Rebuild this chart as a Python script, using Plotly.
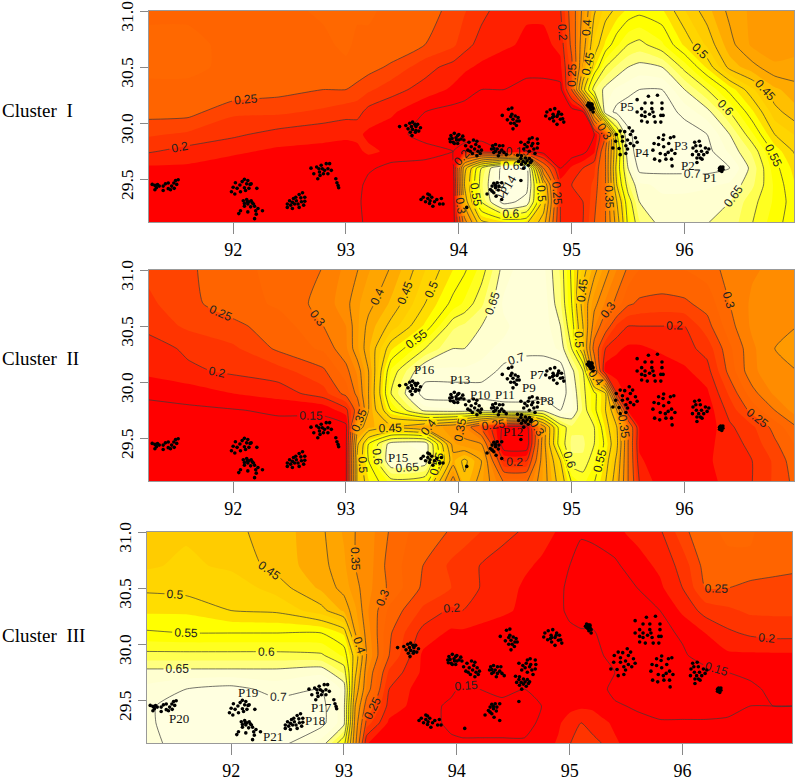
import plotly.graph_objects as go

LON = [91.2,91.6,92.0,92.4,92.8,93.0,93.1,93.2,93.4,93.7,93.95,94.05,94.2,94.4,94.6,94.75,94.9,95.0,95.1,95.2,95.3,95.4,95.5,95.6,95.8,96.0,96.2,96.4,96.6,96.8,97.0]
LAT = [31.05,30.7,30.5,30.3,30.1,29.9,29.75,29.6,29.45,29.3,29.1]

Z1 = [
[.27,.27,.27,.27,.28,.28,.28,.28,.27,.27,.24,.23,.21,.19,.18,.18,.2,.27,.36,.44,.48,.5,.52,.53,.52,.47,.43,.39,.37,.36,.37],
[.28,.28,.27,.27,.27,.28,.27,.27,.27,.25,.23,.21,.19,.18,.17,.17,.18,.26,.38,.48,.53,.57,.6,.61,.58,.52,.47,.41,.37,.36,.37],
[.28,.28,.27,.27,.27,.27,.27,.26,.245,.21,.19,.18,.17,.16,.16,.16,.17,.24,.4,.52,.6,.63,.65,.66,.65,.59,.52,.44,.41,.38,.38],
[.27,.27,.27,.26,.25,.25,.24,.23,.21,.19,.17,.16,.15,.15,.14,.14,.14,.25,.48,.62,.66,.68,.69,.7,.7,.65,.6,.54,.48,.43,.41],
[.26,.26,.23,.23,.22,.21,.21,.19,.18,.15,.14,.14,.13,.13,.13,.13,.13,.13,.14,.4,.68,.71,.72,.72,.72,.69,.66,.6,.53,.46,.43],
[.23,.22,.205,.19,.18,.18,.18,.17,.16,.14,.13,.13,.13,.13,.13,.13,.13,.13,.14,.15,.25,.55,.69,.72,.7,.72,.7,.65,.58,.5,.47],
[.205,.19,.18,.17,.17,.165,.17,.18,.17,.16,.15,.17,.18,.15,.15,.13,.13,.13,.14,.17,.3,.5,.68,.72,.73,.72,.71,.67,.62,.54,.49],
[.17,.17,.16,.16,.16,.16,.16,.155,.14,.14,.14,.43,.6,.72,.72,.3,.15,.18,.2,.22,.3,.52,.65,.71,.71,.71,.71,.7,.64,.56,.51],
[.16,.16,.16,.16,.16,.16,.16,.14,.13,.13,.13,.45,.62,.72,.72,.45,.19,.2,.21,.23,.3,.5,.62,.67,.68,.68,.68,.67,.63,.57,.52],
[.16,.16,.16,.16,.16,.16,.155,.14,.13,.13,.13,.42,.6,.72,.68,.48,.2,.19,.2,.24,.3,.45,.58,.65,.67,.67,.66,.65,.61,.57,.53],
[.16,.16,.16,.16,.16,.165,.16,.14,.13,.13,.13,.32,.48,.5,.5,.42,.2,.18,.2,.25,.3,.42,.56,.62,.66,.66,.65,.64,.6,.56,.53],
]
Z2 = [
[.23,.245,.27,.28,.3,.33,.345,.37,.4,.47,.52,.54,.58,.66,.69,.68,.62,.54,.47,.42,.37,.33,.3,.28,.28,.28,.29,.31,.32,.33,.33],
[.215,.245,.26,.28,.31,.34,.37,.39,.43,.5,.56,.58,.62,.68,.7,.69,.63,.55,.43,.36,.32,.29,.255,.245,.24,.245,.26,.3,.33,.34,.35],
[.205,.23,.245,.26,.3,.325,.37,.41,.46,.53,.62,.63,.65,.67,.69,.69,.65,.57,.45,.33,.27,.22,.2,.2,.2,.2,.24,.29,.33,.35,.35],
[.185,.205,.22,.255,.28,.32,.37,.42,.52,.6,.65,.65,.67,.68,.69,.69,.67,.6,.46,.28,.2,.18,.17,.17,.18,.19,.21,.27,.32,.35,.36],
[.18,.195,.205,.215,.245,.29,.33,.4,.58,.68,.68,.68,.68,.71,.72,.72,.72,.66,.6,.35,.16,.16,.16,.16,.16,.17,.19,.26,.32,.34,.35],
[.155,.16,.175,.185,.215,.26,.31,.4,.6,.72,.72,.72,.72,.72,.72,.72,.72,.68,.61,.56,.5,.2,.16,.16,.155,.155,.17,.23,.29,.33,.35],
[.14,.145,.148,.155,.155,.19,.27,.4,.55,.66,.67,.67,.66,.68,.68,.66,.7,.68,.62,.56,.5,.4,.17,.16,.155,.155,.16,.21,.26,.3,.34],
[.13,.13,.13,.14,.14,.14,.38,.42,.44,.4,.36,.33,.25,.14,.13,.38,.58,.62,.62,.6,.52,.45,.3,.17,.155,.155,.16,.195,.22,.26,.3],
[.13,.13,.13,.13,.13,.14,.44,.55,.67,.68,.38,.36,.35,.12,.12,.38,.58,.63,.63,.6,.54,.46,.3,.17,.155,.155,.17,.185,.21,.245,.28],
[.13,.13,.13,.13,.13,.14,.46,.55,.68,.67,.42,.46,.4,.2,.2,.38,.5,.62,.62,.58,.52,.44,.3,.18,.155,.155,.17,.19,.2,.23,.27],
[.13,.13,.13,.13,.13,.14,.46,.52,.58,.57,.32,.44,.38,.3,.3,.38,.47,.55,.58,.55,.5,.42,.3,.2,.16,.16,.17,.18,.2,.23,.26],
]
Z3 = [
[.47,.47,.455,.44,.405,.37,.35,.34,.3,.26,.25,.245,.23,.21,.2,.19,.175,.17,.16,.165,.165,.17,.18,.185,.2,.245,.27,.28,.28,.26,.26],
[.47,.48,.47,.44,.41,.38,.35,.34,.29,.25,.22,.21,.2,.19,.18,.17,.16,.15,.13,.13,.14,.145,.155,.165,.18,.21,.26,.27,.27,.26,.26],
[.495,.49,.49,.465,.42,.39,.36,.335,.295,.245,.225,.215,.2,.19,.17,.165,.16,.14,.13,.13,.13,.13,.14,.15,.17,.2,.25,.25,.24,.24,.23],
[.52,.52,.5,.495,.46,.42,.38,.33,.27,.22,.195,.2,.19,.18,.17,.16,.16,.14,.13,.13,.13,.13,.13,.14,.15,.18,.21,.22,.23,.23,.23],
[.555,.55,.55,.55,.55,.52,.4,.34,.255,.19,.17,.17,.165,.16,.16,.16,.16,.16,.155,.155,.14,.14,.13,.13,.14,.155,.175,.195,.205,.21,.21],
[.61,.61,.61,.61,.605,.57,.48,.35,.25,.17,.16,.165,.16,.16,.16,.16,.16,.16,.16,.16,.15,.14,.13,.13,.13,.145,.165,.17,.17,.17,.17],
[.66,.66,.66,.66,.67,.62,.46,.33,.22,.17,.16,.16,.16,.16,.16,.16,.16,.16,.16,.155,.155,.15,.13,.13,.13,.13,.14,.15,.155,.16,.16],
[.68,.7,.71,.69,.7,.67,.43,.32,.2,.16,.155,.145,.15,.16,.15,.155,.16,.16,.16,.16,.155,.14,.135,.13,.13,.13,.13,.13,.145,.155,.155],
[.69,.72,.72,.71,.71,.66,.4,.28,.19,.16,.145,.14,.14,.14,.14,.15,.16,.165,.17,.17,.16,.155,.15,.145,.13,.13,.13,.14,.15,.15,.15],
[.69,.72,.72,.72,.71,.66,.38,.24,.17,.16,.145,.14,.14,.14,.14,.155,.17,.19,.2,.19,.18,.17,.165,.16,.155,.155,.155,.155,.155,.16,.16],
[.69,.71,.71,.71,.66,.56,.36,.17,.16,.16,.155,.155,.155,.155,.155,.16,.18,.2,.21,.21,.2,.18,.17,.165,.16,.16,.16,.16,.16,.16,.16],
]

P20 = [(91.283,29.455),(91.307,29.446),(91.32,29.426),(91.345,29.44),(91.307,29.408),(91.38,29.4),(91.38,29.44),(91.4,29.46),(91.425,29.467),(91.425,29.417),(91.445,29.408),(91.455,29.44),(91.475,29.467),(91.49,29.49),(91.513,29.497),(91.5,29.455),(91.478,29.42),(91.33,29.453)]
P19 = [(91.985,29.39),(92.0,29.43),(92.02,29.47),(92.035,29.42),(92.06,29.45),(92.065,29.39),(92.08,29.48),(92.1,29.5),(92.12,29.46),(92.13,29.49),(92.15,29.455),(92.1,29.425),(92.14,29.42),(92.16,29.46),(92.21,29.42),(92.015,29.37),(92.11,29.4)]
P21 = [(92.09,29.31),(92.12,29.32),(92.14,29.3),(92.16,29.31),(92.18,29.28),(92.13,29.28),(92.1,29.285),(92.155,29.255),(92.19,29.26),(92.2,29.22),(92.26,29.22),(92.065,29.22),(92.05,29.195),(92.13,29.21),(92.205,29.19),(92.19,29.15),(92.1,29.26),(92.125,29.3),(92.17,29.29),(92.22,29.24)]
P18 = [(92.48,29.28),(92.48,29.25),(92.5,29.31),(92.51,29.27),(92.525,29.24),(92.535,29.33),(92.545,29.28),(92.56,29.31),(92.585,29.365),(92.6,29.335),(92.605,29.3),(92.615,29.38),(92.635,29.34),(92.635,29.305),(92.625,29.27),(92.585,29.25),(92.525,29.295),(92.575,29.28),(92.555,29.34)]
P17 = [(92.69,29.6),(92.715,29.55),(92.74,29.61),(92.75,29.505),(92.765,29.565),(92.78,29.625),(92.79,29.595),(92.8,29.55),(92.76,29.595),(92.825,29.64),(92.84,29.595),(92.855,29.64),(92.87,29.58),(92.84,29.55),(92.81,29.58),(92.77,29.535),(92.91,29.505),(92.92,29.47),(92.93,29.445),(92.935,29.425)]
P16 = [(93.475,29.97),(93.53,29.98),(93.55,29.95),(93.565,30.0),(93.58,29.97),(93.59,30.01),(93.61,29.99),(93.62,29.97),(93.635,29.99),(93.66,29.96),(93.645,29.93),(93.615,29.92),(93.585,29.89),(93.57,29.92),(93.59,29.945),(93.62,29.935)]
P00 = [(93.665,29.32),(93.685,29.34),(93.705,29.3),(93.725,29.37),(93.725,29.33),(93.74,29.285),(93.745,29.31),(93.76,29.34),(93.77,29.26),(93.785,29.3),(93.805,29.32),(93.845,29.33),(93.86,29.28),(93.83,29.28),(93.74,29.36)]
P13 = [(93.92,29.86),(93.93,29.89),(93.95,29.83),(93.96,29.91),(93.975,29.87),(93.99,29.82),(94.0,29.9),(94.02,29.86),(94.035,29.885),(94.045,29.85),(93.94,29.865),(93.98,29.85),(93.99,29.89),(93.96,29.82),(93.925,29.835),(94.0,29.85)]
P10 = [(94.06,29.8),(94.08,29.76),(94.09,29.83),(94.11,29.79),(94.12,29.73),(94.13,29.85),(94.14,29.77),(94.15,29.81),(94.16,29.71),(94.17,29.75),(94.18,29.79),(94.19,29.73),(94.2,29.76),(94.16,29.84),(94.1,29.75)]
P11 = [(94.29,29.77),(94.3,29.8),(94.31,29.74),(94.325,29.81),(94.34,29.77),(94.35,29.71),(94.36,29.8),(94.38,29.76),(94.39,29.8),(94.4,29.74),(94.42,29.72),(94.325,29.75),(94.36,29.74),(94.31,29.775)]
P08 = [(94.55,29.83),(94.585,29.81),(94.575,29.77),(94.605,29.79),(94.625,29.86),(94.625,29.75),(94.65,29.87),(94.655,29.82),(94.665,29.77),(94.675,29.73),(94.695,29.86),(94.7,29.82),(94.695,29.78),(94.645,29.8),(94.615,29.83)]
P09 = [(94.385,30.07),(94.44,30.125),(94.47,30.135),(94.43,30.03),(94.46,30.06),(94.48,30.035),(94.5,30.065),(94.525,30.05),(94.535,30.02),(94.49,30.0),(94.46,30.0),(94.51,29.98),(94.48,29.95),(94.515,30.02),(94.47,30.08)]
P07 = [(94.77,30.065),(94.78,30.1),(94.81,30.12),(94.85,30.13),(94.885,30.1),(94.91,30.08),(94.92,30.04),(94.93,30.01),(94.87,29.99),(94.84,30.02),(94.83,30.05),(94.805,30.04),(94.87,30.06),(94.9,30.035),(94.835,30.08),(94.88,30.08),(94.84,30.06)]
P12 = [(94.52,29.715),(94.53,29.66),(94.55,29.685),(94.555,29.635),(94.57,29.66),(94.575,29.6),(94.59,29.69),(94.59,29.645),(94.605,29.665),(94.615,29.625),(94.625,29.685),(94.635,29.65),(94.555,29.71),(94.645,29.665)]
P14 = [(94.25,29.37),(94.28,29.41),(94.295,29.44),(94.31,29.465),(94.325,29.425),(94.295,29.395),(94.34,29.47),(94.355,29.44),(94.35,29.405),(94.31,29.38),(94.38,29.47),(94.33,29.35),(94.38,29.32),(94.55,29.49),(94.325,29.445),(94.07,29.25)]
P06 = [(95.14,30.16),(95.15,30.18),(95.16,30.14),(95.17,30.17),(95.18,30.15),(95.19,30.13),(95.16,30.17),(95.17,30.12),(95.15,30.15),(95.18,30.17),(95.19,30.1),(95.17,30.15)]
P05 = [(95.58,30.21),(95.68,30.24),(95.76,30.25),(95.8,30.18),(95.65,30.18),(95.71,30.18),(95.62,30.13),(95.71,30.13),(95.58,30.1),(95.65,30.1),(95.69,30.08),(95.72,30.1),(95.8,30.13),(95.62,30.07),(95.65,30.06),(95.73,30.06),(95.79,30.07),(95.81,30.07),(95.62,30.02),(95.67,30.01),(95.74,30.01),(95.79,30.01)]
P04 = [(95.365,29.78),(95.39,29.84),(95.395,29.9),(95.42,29.775),(95.43,29.72),(95.45,29.84),(95.45,29.88),(95.47,29.925),(95.48,29.8),(95.48,29.73),(95.495,29.85),(95.51,29.96),(95.52,29.9),(95.52,29.82),(95.54,29.93),(95.55,29.8),(95.565,29.87),(95.58,29.83),(95.43,29.93),(95.495,29.77)]
P03 = [(95.72,29.76),(95.73,29.82),(95.735,29.68),(95.77,29.81),(95.77,29.87),(95.78,29.665),(95.785,29.73),(95.81,29.855),(95.815,29.79),(95.815,29.895),(95.83,29.72),(95.835,29.68),(95.86,29.82),(95.875,29.87),(95.885,29.76),(95.885,29.68),(95.89,29.62),(95.905,29.88),(95.915,29.73),(95.855,29.74)]
P02 = [(96.07,29.72),(96.075,29.78),(96.09,29.83),(96.105,29.75),(96.11,29.69),(96.11,29.65),(96.125,29.72),(96.13,29.84),(96.14,29.8),(96.15,29.75),(96.155,29.68),(96.17,29.72),(96.185,29.78),(96.2,29.74),(96.215,29.77),(96.14,29.69),(96.1,29.8)]
P01 = [(96.31,29.6),(96.32,29.58),(96.33,29.6),(96.34,29.59),(96.32,29.61),(96.33,29.57),(96.34,29.61),(96.31,29.58),(96.325,29.595)]

SITES = P01+P02+P03+P04+P05+P06+P07+P08+P09+P10+P11+P12+P13+P14+P16+P17+P18+P19+P20+P21+P00
SITE_LON = [p[0] for p in SITES]
SITE_LAT = [p[1] for p in SITES]

LABELS1 = [("P1",96.23,29.52,0),("P2",96.03,29.62,0),("P3",95.97,29.8,0),("P4",95.62,29.74,0),("P5",95.49,30.15,0),("P14",94.44,29.45,-60)]
LABELS2 = [("P7",94.69,30.07,0),("P9",94.62,29.95,0),("P8",94.78,29.84,0),("P11",94.41,29.89,0),("P10",94.19,29.89,0),("P12",94.48,29.56,0),("P13",94.01,30.02,0),("P16",93.7,30.11,0),("P15",93.46,29.33,0)]
LABELS3 = [("P17",92.8,29.44,0),("P18",92.74,29.32,0),("P19",92.15,29.57,0),("P20",91.54,29.34,0),("P21",92.37,29.18,0)]
PANEL_NAMES = ["Cluster\u00a0\u00a0I","Cluster\u00a0\u00a0II","Cluster\u00a0\u00a0III"]
X_TICKS = [92,93,94,95,96]
Y_TICKS = [29.5,30.0,30.5,31.0]

W, H = 796, 781
SERIF = "Liberation Serif"
BAND_COLORS = ["#FF0000","#FF2000","#FF3400","#FF4400","#FF6400","#FF6800","#FF8000","#FF8C00","#FF9A00","#FFA500","#FFAA00",
               "#FFBF00","#FFCC00","#FFD500","#FFDD00","#FFFF00","#FFFF00","#FFFF20","#FFFF50","#FFFF80","#FFFFD0","#FFFFD8","#FFFFE0"]
SCALE = [[i/(len(BAND_COLORS)-1), c] for i, c in enumerate(BAND_COLORS)]
PANELS = [(Z1, LABELS1, 148.5, 794, 11, 222, 110),
          (Z2, LABELS2, 148.5, 794, 270, 481, 359),
          (Z3, LABELS3, 146.5, 792, 532, 743, 635)]

fig = go.Figure()
annots = []
for i, (z, labels, x0, x1, top, bot, name_y) in enumerate(PANELS):
    sfx = "" if i == 0 else str(i+1)
    xa, ya = "x"+sfx, "y"+sfx
    zr = z[::-1]
    lat = LAT[::-1]
    fig.add_trace(go.Contour(x=LON, y=lat, z=zr, xaxis=xa, yaxis=ya, showscale=False, hoverinfo="skip",
        colorscale=SCALE, autocontour=False,
        contours=dict(start=.175, end=.7, size=.025, coloring="fill", showlines=False),
        line=dict(width=0, smoothing=.5)))
    fig.add_trace(go.Contour(x=LON, y=lat, z=zr, xaxis=xa, yaxis=ya, showscale=False, hoverinfo="skip",
        autocontour=False,
        contours=dict(start=.15, end=.7, size=.05, coloring="none", showlabels=True, labelformat=".2~f",
                      labelfont=dict(family="Liberation Sans", size=12, color="#222")),
        line=dict(width=.7, color="#3a3a3a", smoothing=.5)))
    fig.add_trace(go.Scatter(x=SITE_LON, y=SITE_LAT, xaxis=xa, yaxis=ya, mode="markers", hoverinfo="skip",
        marker=dict(size=3.6, color="black"), showlegend=False))
    fig.update_layout({
        ("xaxis"+sfx): dict(domain=[x0/W, x1/W], range=[91.25, 96.97], tickvals=X_TICKS, ticks="outside", ticklen=11,
            tickcolor="#888", showline=True, mirror=True, linecolor="#999", linewidth=1, showgrid=False, zeroline=False,
            automargin=False, tickfont=dict(family=SERIF, size=18, color="black"), anchor=ya),
        ("yaxis"+sfx): dict(domain=[1-bot/H, 1-top/H], range=[29.12, 31.0], tickvals=Y_TICKS, tickformat=".1f", tickangle=-90,
            ticks="outside", ticklen=8, tickcolor="#888", showline=True, mirror=True, linecolor="#999", linewidth=1,
            automargin=False, showgrid=False, zeroline=False, ticklabeloverflow="allow", ticklabelshift=8,
            tickfont=dict(family=SERIF, size=17.5, color="black"), anchor=xa),
    })
    for txt, lx, ly, ang in labels:
        annots.append(dict(x=lx, y=ly, xref=xa, yref=ya, text=txt, showarrow=False, textangle=ang,
                           font=dict(family=SERIF, size=13, color="#111")))
    annots.append(dict(x=0, y=1-name_y/H, xref="paper", yref="paper", xanchor="left", yanchor="middle",
                       text=PANEL_NAMES[i], showarrow=False, font=dict(family=SERIF, size=19, color="black")))

fig.update_layout(width=W, height=H, margin=dict(l=0, r=0, t=0, b=0), showlegend=False,
                  paper_bgcolor="white", plot_bgcolor="white", annotations=annots)
fig.write_html("out.html", config={"displayModeBar": False}, post_script="document.body.style.margin='0';")
